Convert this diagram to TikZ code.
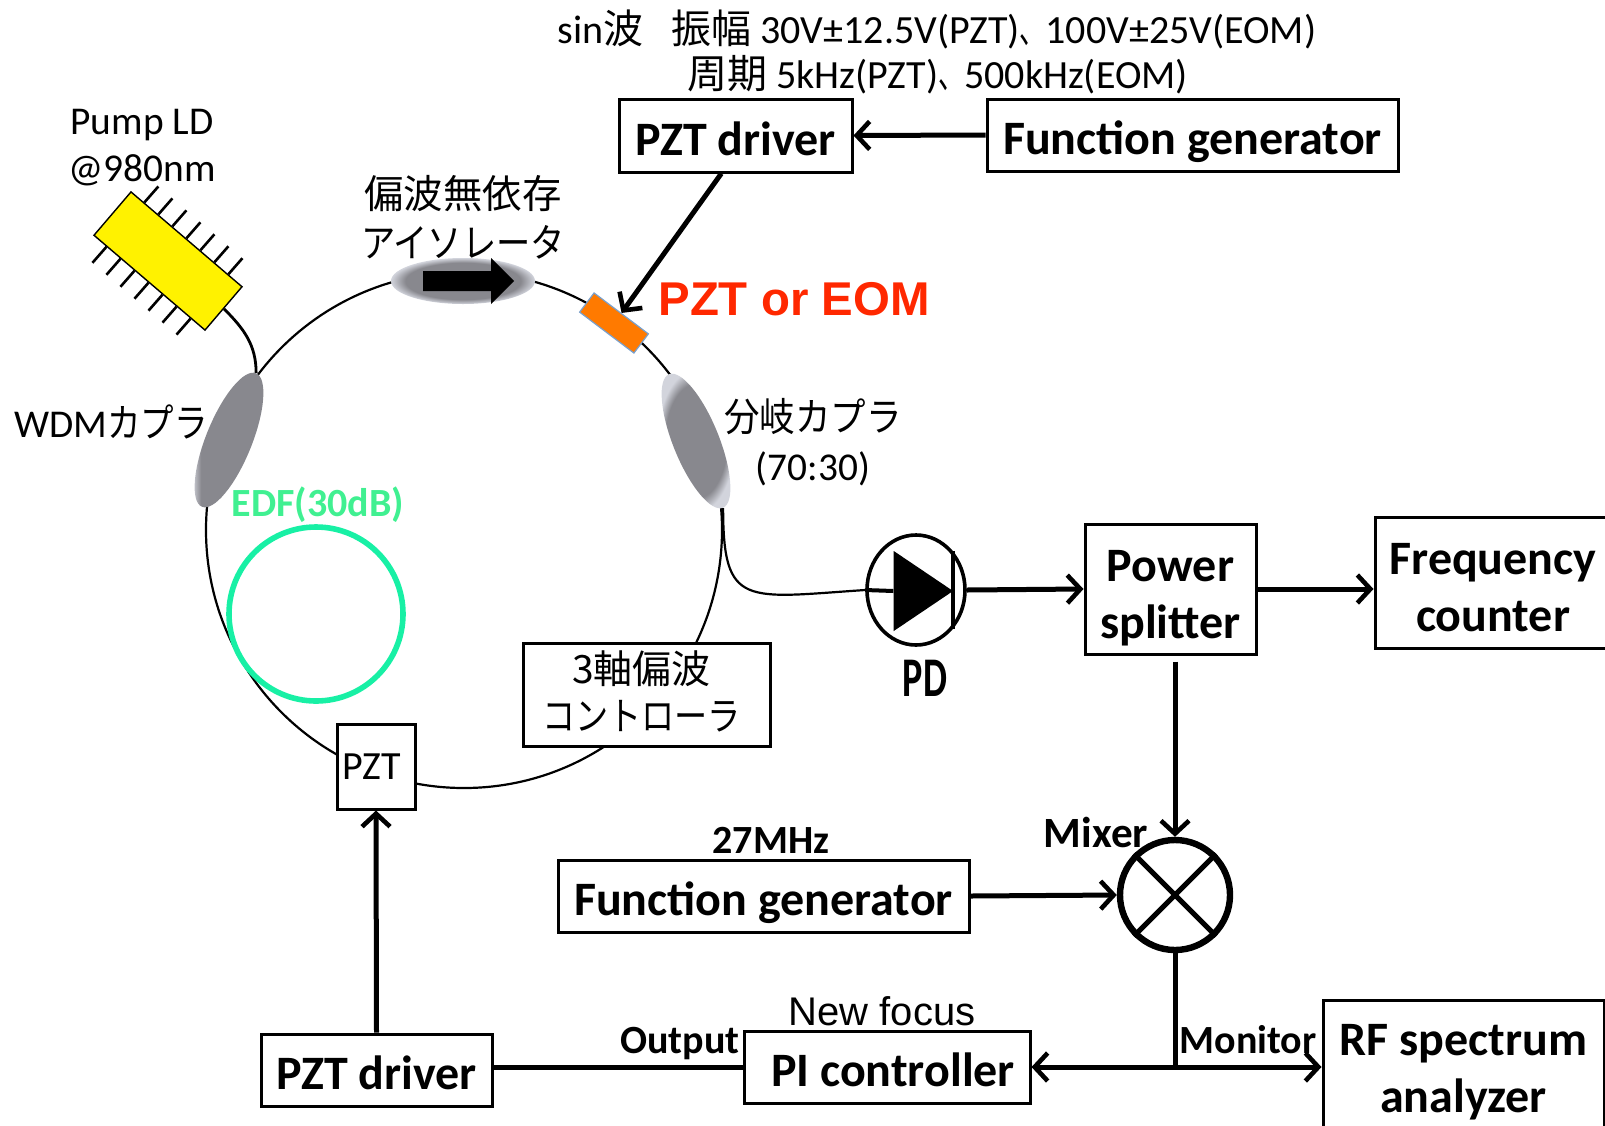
\documentclass[tikz,border=0pt]{standalone}
\usepackage{fontspec,graphicx}
\usetikzlibrary{arrows.meta,calc,positioning,shapes.geometric}
\setmainfont{Carlito}
\newfontfamily\cjk{Noto Sans CJK JP}
\newfontfamily\arialfont{Liberation Sans}
\definecolor{edfgreen}{RGB}{24,240,165}
\definecolor{edftext}{RGB}{64,240,145}
\definecolor{eomred}{RGB}{255,40,0}
\definecolor{eomorange}{RGB}{255,122,0}
\definecolor{eomedge}{RGB}{120,160,205}
\definecolor{coupgray}{RGB}{136,136,142}
\definecolor{couprim}{RGB}{210,212,220}
\pgfdeclareradialshading{rimshade}{\pgfpoint{0bp}{0bp}}{color(0bp)=(coupgray); color(20bp)=(coupgray); color(25bp)=(couprim); color(50bp)=(couprim)}
\pgfdeclarehorizontalshading{endshade}{100bp}{color(0bp)=(couprim); color(26bp)=(couprim); color(32bp)=(coupgray); color(100bp)=(coupgray)}
\tikzset{
  devbox/.style={draw,line width=1.5pt,fill=white,inner sep=0pt,align=center},
  boldbox/.style={devbox,font=\fontsize{24}{28.5}\selectfont\bfseries,
    execute at begin node={\rule{0pt}{24.5pt}},execute at end node={\rule[-5pt]{0pt}{5pt}}},
  tallbox/.style={boldbox,execute at begin node={\rule{0pt}{#1}}},
  txt/.style={inner sep=0pt,align=center,font=\fontsize{19.7}{23.5}\selectfont},
  boldtxt/.style={inner sep=0pt,font=\fontsize{20}{22}\selectfont\bfseries},
  sig/.style={line width=2.5pt,-{Straight Barb[length=6.5pt,width=14pt,line width=2.3pt]}},
  fiber/.style={line width=1.1pt},
  coupler/.style={ellipse,minimum width=72pt,minimum height=23pt,inner sep=0pt},
}
\newcommand{\kana}[2]{\scalebox{#1}[1]{\cjk #2}}
\begin{document}
\begin{tikzpicture}[x=.5pt,y=-.5pt]
 \useasboundingbox(0,0)rectangle(1605,1125);
 % fibre ring sits under every component
 \node[circle,draw,fiber,minimum size=258pt,inner sep=0pt](ring)at(464,530){};
 \node[txt](isotxt)at(463,217){{\cjk 偏波無依存}\\[1pt]\kana{.87}{アイソレータ}};
 \node[coupler,shade,shading=rimshade](iso)at(463,281){};
 \fill($(iso.center)+(-40,-10)$)-- ++(68,0)-- ++(0,-13)-- ++(23,23)-- ++(-23,23)-- ++(0,-13)-- ++(-68,0)--cycle;
 \node[coupler,rotate=68,shade,shading=endshade](wdm)at(229,440){};
 \node[coupler,rotate=-68,shade,shading=rimshade](tap)at(696,441){};
 \node[rectangle,rotate=-37,draw=eomedge,fill=eomorange,line width=.6pt,minimum width=34pt,minimum height=12pt,inner sep=0pt](eom)at(614,323){};
 % pump diode with its pins
 \node[rectangle,rotate=-40.5,draw,fill=yellow,line width=.7pt,minimum width=73pt,minimum height=28.5pt,inner sep=0pt](ld)at(168,261){};
 \foreach \t in {.12,.245,.37,.495,.62,.745,.87}{
  \draw[line width=1.3pt]($(ld.north west)!\t!(ld.north east)$)--++(14,-16);
  \draw[line width=1.3pt]($(ld.south west)!\t!(ld.south east)$)--++(-14,16);
 }
 \draw[line width=1.4pt](ld.east)to[out=-45,in=90](wdm.east);
 \node[circle,draw=edfgreen,line width=2.8pt,minimum size=87pt,inner sep=0pt](edf)at(316,614){};
 \node[boldtxt,text=edftext](edftxt)at(318,505){EDF(30dB)};
 \node[txt](pumptxt)at(142,148){Pump LD\\@980nm};
 \node[txt,anchor=east](wdmtxt)at(208,422){WDM\kana{.85}{カプラ}};
 \node[txt](taptxt)at(813,442){\kana{.9}{分岐カプラ}\\[1pt](70:30)};
 \node[inner sep=0pt,text=eomred,font=\fontsize{23.7}{28}\selectfont\arialfont\bfseries](eomtxt)at(794,299){PZT or EOM};
 \node[txt,anchor=west,font=\fontsize{20}{24}\selectfont](sintxt)at(557,29){sin{\cjk 波}\hspace{14pt}{\cjk 振幅} 30V±12.5V(PZT)\kana{.65}{、}100V±25V(EOM)};
 \node[txt,anchor=west,font=\fontsize{20}{24}\selectfont](periodtxt)at(687,75){{\cjk 周期} 5kHz(PZT)\kana{.65}{、}500kHz(EOM)};
 % instruments
 \node[boldbox,minimum width=116.5pt,minimum height=36.5pt](drvtop)at(735.5,135.5){PZT driver};
 \node[boldbox,minimum width=205.5pt,minimum height=36pt](fgtop)at(1192.5,135){Function generator};
 \node[devbox,font=\fontsize{19.5}{23.5}\selectfont,minimum width=123.5pt,minimum height=51.5pt](pol)at(646.5,694.5){{\cjk 3軸偏波}\hspace*{5pt}\\\kana{.85}{コントローラ}\hspace*{5pt}\rule[-4pt]{0pt}{4pt}};
 \node[devbox,font=\fontsize{20}{24}\selectfont,minimum width=39pt,minimum height=42.5pt](pztring)at(376,766.5){PZT\hspace*{4pt}};
 \node[ellipse,draw,line width=1.8pt,fill=white,minimum width=49pt,minimum height=55pt,inner sep=0pt](pd)at(916,590){};
 \node[isosceles triangle,fill=black,isosceles triangle apex angle=68,minimum height=29.5pt,minimum width=40pt,inner sep=0pt](pdtri)at(915,591){};
 \draw[line width=2pt](pd.46)--(pd.-46);
 \draw[line width=2pt](pd.west)--(pdtri.west);
 \node[inner sep=0pt,font=\fontsize{28}{30}\selectfont\bfseries](pdtxt)at(925,678){\scalebox{.68}[1]{PD}};
 \node[tallbox=54pt,minimum width=85.5pt,minimum height=65pt](split)at(1170.5,589){Power\\splitter};
 \node[tallbox=54pt,minimum width=118pt,minimum height=65.5pt](freq)at(1493,582.5){Frequency\\counter};
 \node[circle,draw,line width=3.2pt,minimum size=55pt,inner sep=0pt](mix)at(1175,895){};
 \draw[line width=2.6pt](mix.45)--(mix.225);
 \draw[line width=2.6pt](mix.135)--(mix.315);
 \node[boldtxt,font=\fontsize{21.6}{24}\selectfont\bfseries](mixtxt)at(1096,832){Mixer};
 \node[boldbox,minimum width=205.5pt,minimum height=36pt](fgmix)at(763.5,896){Function generator};
 \node[boldtxt](mhztxt)at(771,840){27MHz};
 \node[boldbox,minimum width=143pt,minimum height=36pt](pi)at(887,1067){\hspace*{6pt}PI controller};
 \node[boldbox,minimum width=115.5pt,minimum height=36pt](drvbot)at(376.5,1070){PZT driver};
 \node[tallbox=50pt,minimum width=140.5pt,minimum height=67pt](rf)at(1463.5,1067){RF spectrum\\analyzer};
 \node[inner sep=0pt,font=\fontsize{20}{22}\selectfont\arialfont](newtxt)at(882,1011){New focus};
 \node[boldtxt](outtxt)at(680,1044){Output};
 \node[boldtxt](montxt)at(1248,1040){Monitor};
 \coordinate(jct)at(mix.south |- pi.east);
 % connectors
 \draw[sig](fgtop.west)--(drvtop.east);
 \draw[sig]($(drvtop.south west)!.44!(drvtop.south east)$)--(eom.north);
 \draw[fiber](tap.east).. controls +(0,100) and +(-120,8) ..(pd.west);
 \draw[sig](pd.east)--(split.west);
 \draw[sig](split.east)--(split.east -| freq.west);
 \draw[sig,shorten <=3pt](split.south -| mix.north)--(mix.north);
 \draw[sig](fgmix.east)--(mix.west);
 \draw[line width=2.5pt](mix.south)--(jct);
 \draw[sig](jct)--(pi.east);
 \draw[sig](jct)--(rf.west);
 \draw[line width=2.5pt](pi.west)--(pi.west -| drvbot.east);
 \draw[sig](drvbot.north)--(pztring.south);
\end{tikzpicture}
\end{document}
